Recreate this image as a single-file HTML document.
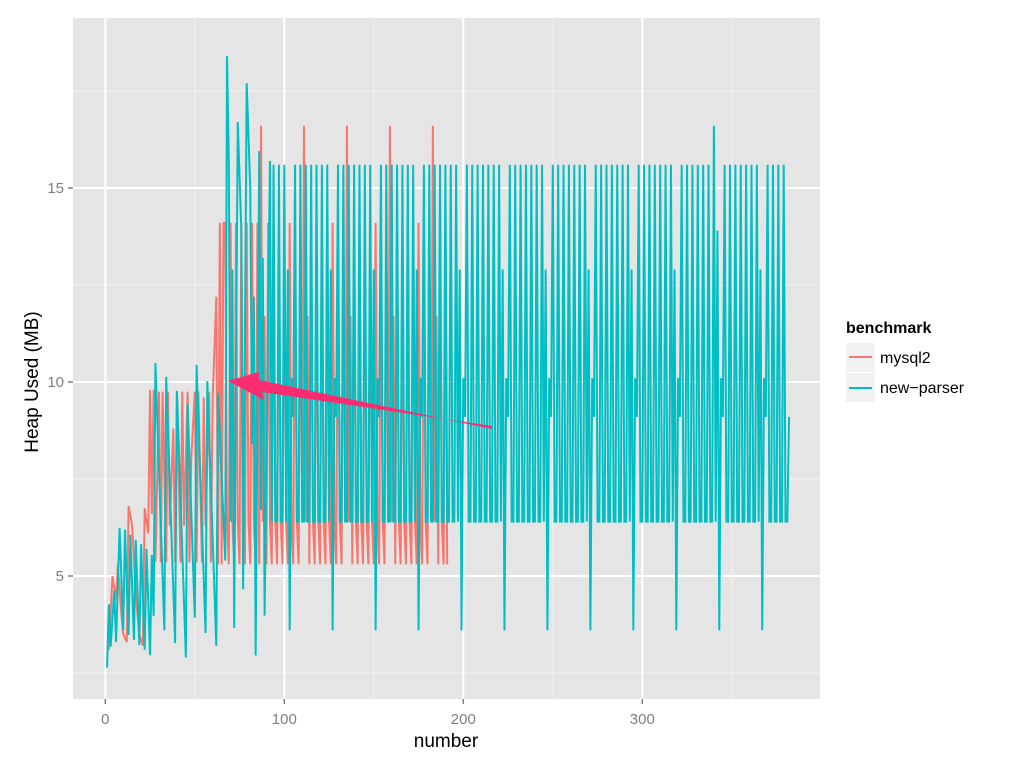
<!DOCTYPE html>
<html><head><meta charset="utf-8">
<style>
html,body{margin:0;padding:0;background:#fff;}
svg{display:block;font-family:"Liberation Sans",sans-serif;}
</style></head>
<body>
<svg id="chart" width="1024" height="765" viewBox="0 0 1024 765">
  <rect x="73" y="18" width="747" height="681" fill="#e5e5e5"/>
  <g id="grid"></g>
  <g id="axes"></g>
  <defs><clipPath id="clip"><rect x="73" y="18" width="747" height="681"/></clipPath></defs>
  <g id="series" clip-path="url(#clip)"></g>
  <polygon points="492,426 262,392 264,400 228,381 259,372 259,380 492,429" fill="#fb2c6f"/>
  <text x="446" y="747" font-size="19" text-anchor="middle" fill="#000">number</text>
  <text transform="translate(38,382) rotate(-90)" font-size="19" text-anchor="middle" fill="#000">Heap Used (MB)</text>
  <g>
    <text x="846" y="333" font-size="16" font-weight="bold" fill="#000">benchmark</text>
    <g>
      <rect x="846" y="343" width="29" height="29" fill="#f2f2f2"/>
      <line x1="849" y1="357" x2="872" y2="357" stroke="#f8766d" stroke-width="2"/>
      <text x="880" y="363" font-size="16" fill="#000">mysql2</text>
    </g>
    <g>
      <rect x="846" y="373" width="29" height="29" fill="#f2f2f2"/>
      <line x1="849" y1="388" x2="872" y2="388" stroke="#00bfc4" stroke-width="2"/>
      <text x="880" y="393" font-size="16" fill="#000">new−parser</text>
    </g>
  </g>
</svg>
<script>
const xTicks = [0, 100, 200, 300];
const xMinor = [50, 150, 250, 350];
const yTicks = [5, 10, 15];
const yMinor = [2.5, 7.5, 12.5, 17.5];

const mysqlX = [2,4,6,7,9,10,12,13,15,17,19,21,22,24,25,26,27,28,30,31,32,34,35,36,38,39,40,42,43,44,46,47,48,50,51,52,54,55,56,58,59,60,62,63,64,65,66];
const mysqlY = [3.1,5.0,4.4,5.3,4.0,3.5,3.3,6.8,6.3,4.5,3.5,3.2,6.75,6.1,9.8,6.6,9.8,5.35,9.75,5.35,9.75,5.35,9.75,6.3,8.8,5.35,9.75,5.35,9.75,6.3,9.75,5.35,8.0,9.75,5.35,9.75,5.35,9.6,6.3,9.75,5.35,9.6,12.2,5.3,14.1,5.3,14.1];
const mysqlSteadyStart = 67;
const mysqlSteady = [
14.1,6.4,5.3,14.1,6.4,5.3,14.1,6.4,5.3,14.1,6.4,5.3,14.1,6.4,5.3,14.1,6.4,5.3,14.1,5.3,
16.6,6.4,11.7,5.3,14.1,6.4,5.3,14.1,6.4,5.3,14.1,6.4,5.3,14.1,6.4,5.3,14.1,6.4,5.3,14.1,6.4,5.3,14.1,6.4,
16.6,6.4,11.7,5.3,14.1,6.4,5.3,14.1,6.4,5.3,14.1,6.4,5.3,14.1,6.4,5.3,14.1,6.4,5.3,14.1,6.4,5.3,14.1,6.4,
16.6,6.4,11.7,5.3,14.1,6.4,5.3,14.1,6.4,5.3,14.1,6.4,5.3,14.1,6.4,5.3,14.1,6.4,5.3,14.1,6.4,5.3,14.1,6.4,
16.6,6.4,11.7,5.3,14.1,6.4,5.3,14.1,6.4,5.3,14.1,6.4,5.3,14.1,6.4,5.3,14.1,6.4,5.3,14.1,6.4,5.3,14.1,6.4,
16.6,6.4,11.7,5.3,14.1,6.4,5.3,14.1,5.3];

const parserX = [1,2,3,5,6,8,10,11,13,14,16,17,19,20,22,23,25,26,27,28,33,34,39,40,45,46,50,51,56,57,62,63,67,68,69,70,71,72,74,76,77,79,81,82,83,84,86,87,88,89,92];
const parserY = [2.64,4.27,3.18,4.62,3.3,6.24,3.6,6.19,3.48,6.06,3.35,5.93,3.22,5.82,3.1,5.7,2.96,5.54,3.97,10.49,3.6,10.13,3.27,9.77,2.9,9.43,3.92,10.44,3.53,10.02,3.2,9.72,5.4,18.4,15.7,6.4,12.9,3.66,16.7,13.9,4.66,17.7,14.95,8.4,12.2,2.95,15.95,6.7,13.2,3.98,15.7];
const parserSteadyStart = 93;
const parserSteady = [
6.4,15.6,6.4,6.4,15.6,6.4,6.4,15.6,6.4,12.9,3.6,10.1,9.1,
15.6,6.4,6.4,15.6,6.4,6.4,15.6,6.4,6.4,15.6,6.4,6.4,15.6,6.4,6.4,15.6,6.4,6.4,15.6,6.4,12.9,3.6,10.1,9.1,
15.6,6.4,6.4,15.6,6.4,6.4,15.6,6.4,6.4,15.6,6.4,6.4,15.6,6.4,6.4,15.6,6.4,6.4,15.6,6.4,12.9,3.6,10.1,9.1,
15.6,6.4,6.4,15.6,6.4,6.4,15.6,6.4,6.4,15.6,6.4,6.4,15.6,6.4,6.4,15.6,6.4,6.4,15.6,6.4,12.9,3.6,10.1,9.1,
15.6,6.4,6.4,15.6,6.4,6.4,15.6,6.4,6.4,15.6,6.4,6.4,15.6,6.4,6.4,15.6,6.4,6.4,15.6,6.4,12.9,3.6,10.1,9.1,
15.6,6.4,6.4,15.6,6.4,6.4,15.6,6.4,6.4,15.6,6.4,6.4,15.6,6.4,6.4,15.6,6.4,6.4,15.6,6.4,12.9,3.6,10.1,9.1,
15.6,6.4,6.4,15.6,6.4,6.4,15.6,6.4,6.4,15.6,6.4,6.4,15.6,6.4,6.4,15.6,6.4,6.4,15.6,6.4,12.9,3.6,10.1,9.1,
15.6,6.4,6.4,15.6,6.4,6.4,15.6,6.4,6.4,15.6,6.4,6.4,15.6,6.4,6.4,15.6,6.4,6.4,15.6,6.4,12.9,3.6,10.1,9.1,
15.6,6.4,6.4,15.6,6.4,6.4,15.6,6.4,6.4,15.6,6.4,6.4,15.6,6.4,6.4,15.6,6.4,6.4,15.6,6.4,12.9,3.6,10.1,9.1,
15.6,6.4,6.4,15.6,6.4,6.4,15.6,6.4,6.4,15.6,6.4,6.4,15.6,6.4,6.4,15.6,6.4,6.4,15.6,6.4,12.9,3.6,10.1,9.1,
15.6,6.4,6.4,15.6,6.4,6.4,15.6,6.4,6.4,15.6,6.4,6.4,15.6,6.4,6.4,15.6,6.4,6.4,16.6,6.4,13.9,3.6,10.1,9.1,
15.6,6.4,6.4,15.6,6.4,6.4,15.6,6.4,6.4,15.6,6.4,6.4,15.6,6.4,6.4,15.6,6.4,6.4,15.6,6.4,12.9,3.6,10.1,9.1,
15.6,6.4,6.4,15.6,6.4,6.4,15.6,6.4,6.4,15.6,6.4,6.4,9.1];

const NS = "http://www.w3.org/2000/svg";
function xScale(u){ return 105.3 + u * 1.79; }
function yScale(v){ return 382 - (v - 10) * 38.8; }
const PL = 73, PR = 820, PT = 18, PB = 699;

const grid = document.getElementById('grid');
const axes = document.getElementById('axes');
function mk(tag, attrs, parent){
  const e = document.createElementNS(NS, tag);
  for (const k in attrs) e.setAttribute(k, attrs[k]);
  parent.appendChild(e);
  return e;
}
xMinor.forEach(function(t){
  const l = mk('line', {x1:xScale(t), x2:xScale(t), y1:PT, y2:PB, stroke:'#f2f2f2', 'stroke-width':1}, grid);
  
  
});
yMinor.forEach(function(t){
  const l = mk('line', {x1:PL, x2:PR, y1:yScale(t), y2:yScale(t), stroke:'#f2f2f2', 'stroke-width':1}, grid);
  
  
});
xTicks.forEach(function(t){
  const l = mk('line', {x1:xScale(t), x2:xScale(t), y1:PT, y2:PB, stroke:'#ffffff', 'stroke-width':2}, grid);
  
  
  const tk = mk('line', {x1:xScale(t), x2:xScale(t), y1:PB, y2:PB+5, stroke:'#7f7f7f', 'stroke-width':1.5}, axes);
  
  
  const tx = mk('text', {x:xScale(t), y:PB+25, 'font-size':15, fill:'#7f7f7f', 'text-anchor':'middle'}, axes);
  tx.textContent = String(t);
  
  
});
yTicks.forEach(function(t){
  const l = mk('line', {x1:PL, x2:PR, y1:yScale(t), y2:yScale(t), stroke:'#ffffff', 'stroke-width':2}, grid);
  
  
  const tk = mk('line', {x1:PL-5, x2:PL, y1:yScale(t), y2:yScale(t), stroke:'#7f7f7f', 'stroke-width':1.5}, axes);
  
  
  const tx = mk('text', {x:PL-9, y:yScale(t)+5, 'font-size':15, fill:'#7f7f7f', 'text-anchor':'end'}, axes);
  tx.textContent = String(t);
  
  
});

function buildPoints(xs, ys, start, steady){
  const pts = [];
  for (let i = 0; i < xs.length; i++) pts.push(xScale(xs[i]).toFixed(2) + ',' + yScale(ys[i]).toFixed(2));
  for (let i = 0; i < steady.length; i++) pts.push(xScale(start + i).toFixed(2) + ',' + yScale(steady[i]).toFixed(2));
  return pts.join(' ');
}
const series = document.getElementById('series');
const lineMysql = mk('polyline', {points: buildPoints(mysqlX, mysqlY, mysqlSteadyStart, mysqlSteady), fill:'none', stroke:'#f8766d', 'stroke-width':2, 'stroke-linejoin':'miter'}, series);


const lineParser = mk('polyline', {points: buildPoints(parserX, parserY, parserSteadyStart, parserSteady), fill:'none', stroke:'#00bfc4', 'stroke-width':2, 'stroke-linejoin':'miter'}, series);


</script>
</body></html>
